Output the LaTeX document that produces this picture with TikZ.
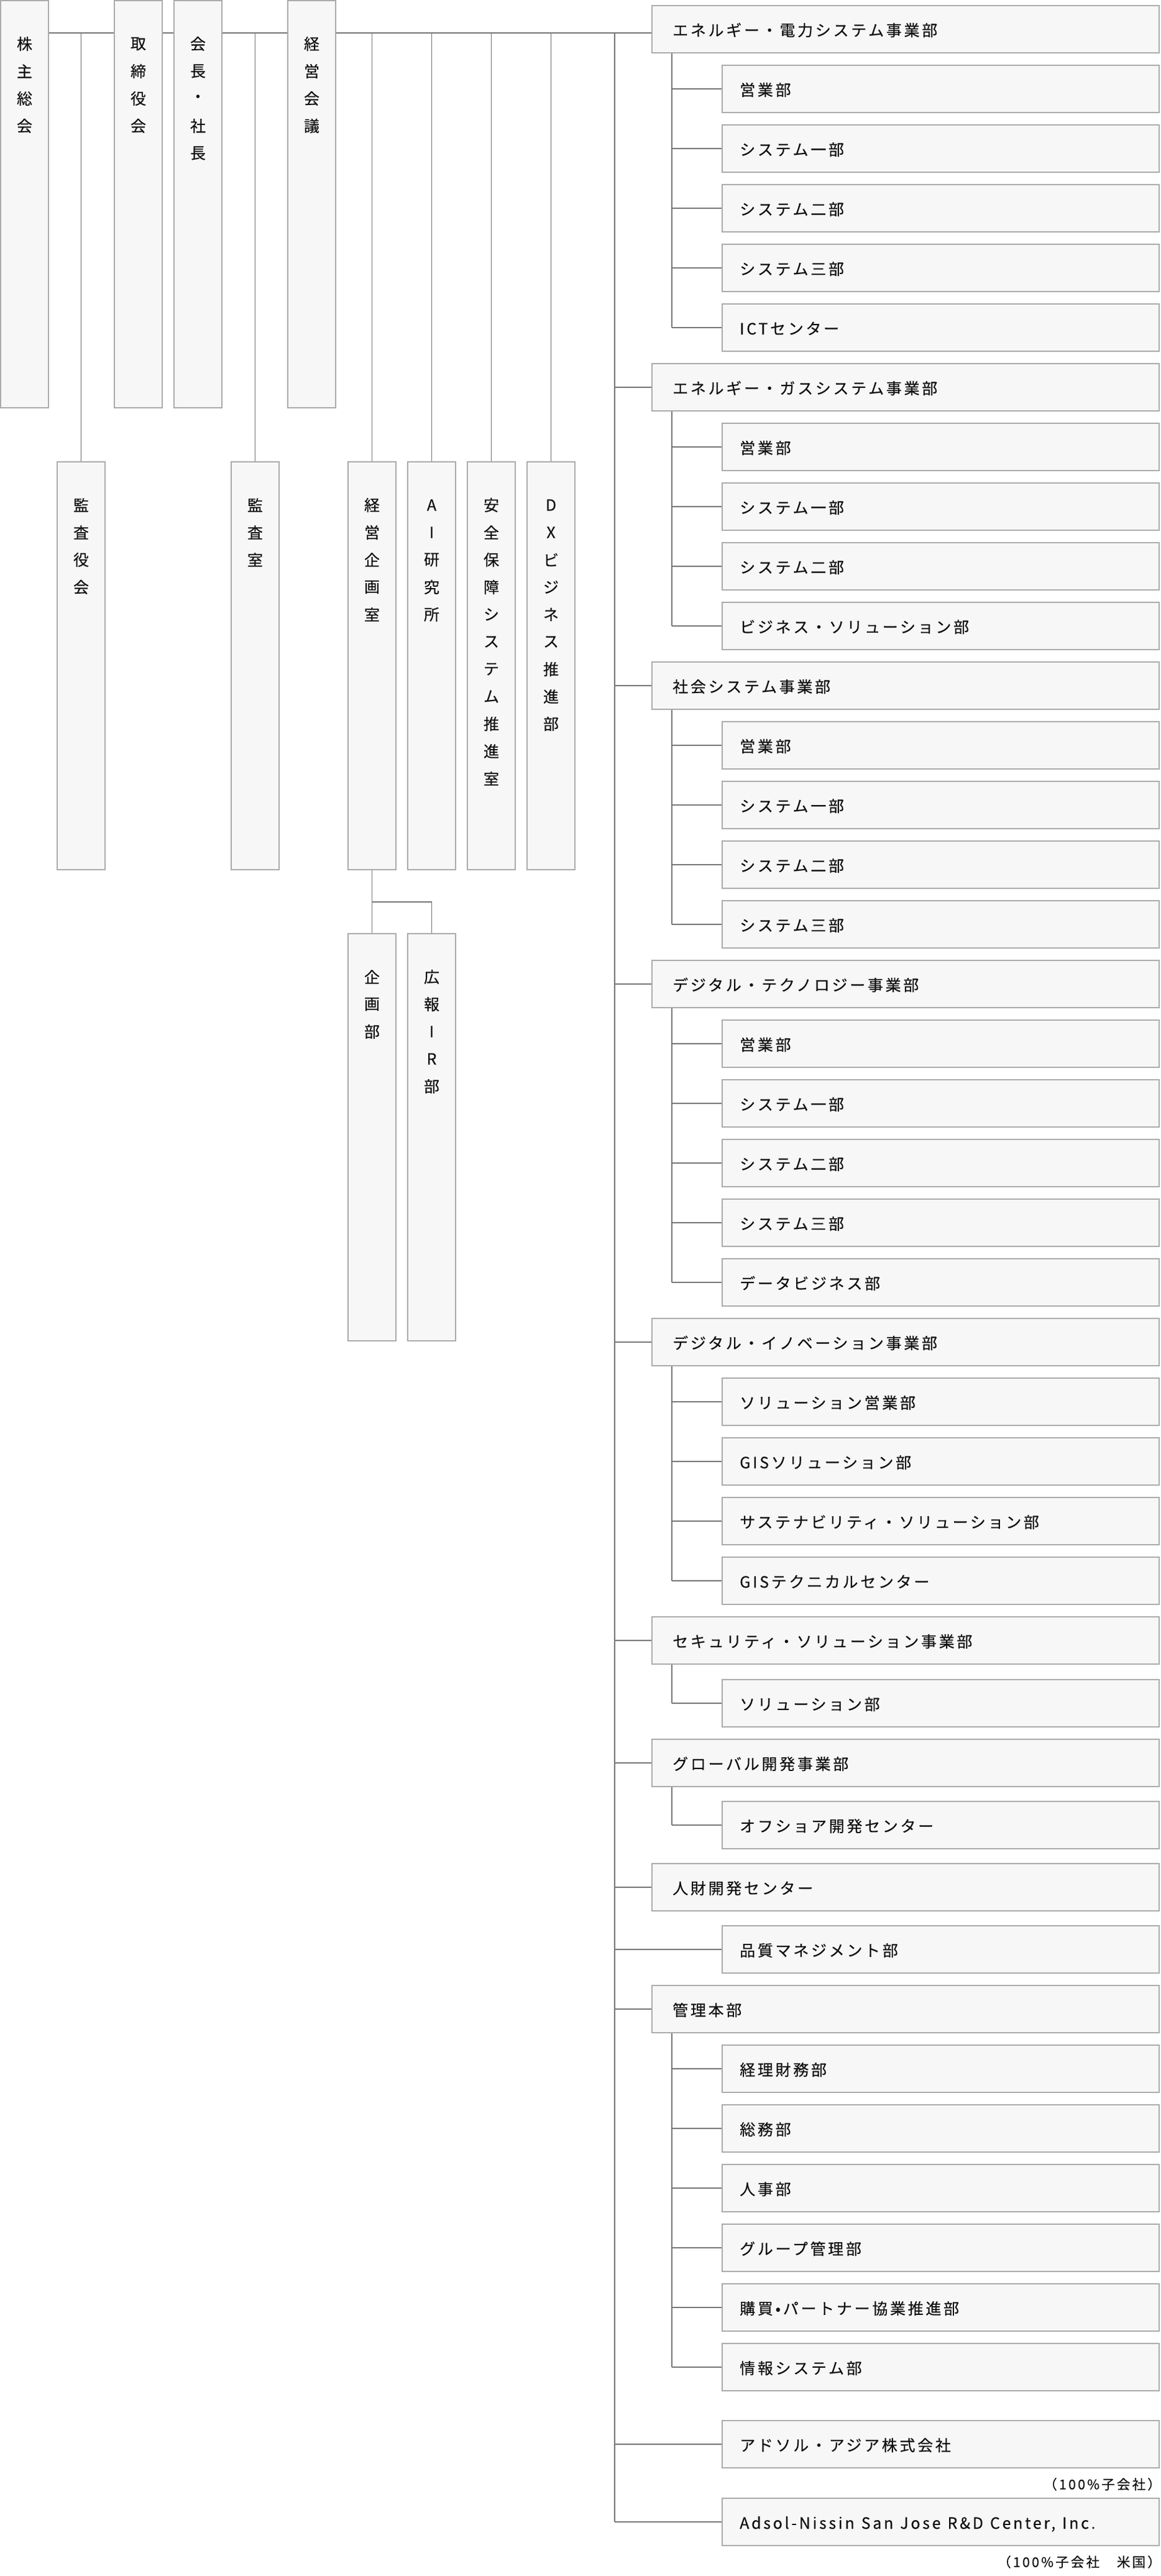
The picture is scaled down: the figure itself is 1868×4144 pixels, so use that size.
\documentclass[tikz,border=0pt]{standalone}
\usepackage{fontspec}
\setmainfont{Noto Sans CJK JP}[FakeBold=0.35]
\newfontfamily\jpls{Noto Sans CJK JP}[LetterSpace=14.8,FakeBold=0.35]
\usetikzlibrary{calc}
\pgfdeclarelayer{bg}
\pgfsetlayers{bg,main}
\definecolor{boxfill}{HTML}{F7F7F7}
\definecolor{boxline}{HTML}{ABABAB}
\definecolor{connc}{HTML}{777777}
\definecolor{txt}{HTML}{111111}
\tikzset{
  box/.style={draw=boxline, fill=boxfill, line width=2, inner sep=0, rectangle},
  vbox/.style={box, minimum width=77},
  divbox/.style={box, minimum width=816, minimum height=76},
  subbox/.style={box, minimum width=703, minimum height=76},
  vchar/.style={inner sep=0, text=txt, font=\fontsize{25}{25}\selectfont},
  htext/.style={inner sep=0, anchor=base west, text=txt, font=\jpls\fontsize{25}{25}\selectfont},
  notetext/.style={inner sep=0, anchor=base east, text=txt, font=\jpls\fontsize{21.5}{21.5}\selectfont},
  conn/.style={draw=connc, line width=1.8},
}
\newcommand\wsp{\hspace{11pt}}
% vertical label: name, x centre, box top, chars
\newcommand\vlabel[4]{\foreach \c [count=\i] in {#4} \node[vchar] (#1-c\i) at ({#2},{#3+70.5+44*(\i-1)}) {\c};}
% division box: name, top, text
\newcommand\hdiv[3]{\node[divbox] (#1) at (1457,#2+39) {}; \node[htext] (#1-t) at (1082,#2+50) {#3};}
% sub box: name, top, text
\newcommand\hsub[3]{\node[subbox] (#1) at (1513.5,#2+39) {}; \node[htext] (#1-t) at (1190,#2+50) {#3};}
% sub group connectors: division, last sub, list of subs
\newcommand\subgroup[3]{\draw[conn] (#1.south -| sx) -- (sx |- #2.west);
  \foreach \s in {#3} \draw[conn] (sx |- \s.west) -- (\s.west);}
\begin{document}
\begin{tikzpicture}[x=1pt,y=-1pt]
\begin{pgfonlayer}{bg}
\fill[white] (0,0) rectangle (1868,4144);
\end{pgfonlayer}
\useasboundingbox (0,0) rectangle (1868,4144);

% ---- top row vertical boxes
\node[vbox, minimum height=655] (kabu) at (39.5,328.5) {};
\vlabel{kabu}{39.5}{0}{株,主,総,会}
\node[vbox, minimum height=655] (tori) at (222.5,328.5) {};
\vlabel{tori}{222.5}{0}{取,締,役,会}
\node[vbox, minimum height=655] (kaicho) at (318.5,328.5) {};
\vlabel{kaicho}{318.5}{0}{会,長,・,社,長}
\node[vbox, minimum height=655] (kaigi) at (501.5,328.5) {};
\vlabel{kaigi}{501.5}{0}{経,営,会,議}

% ---- second row
\node[vbox, minimum height=656] (kansayaku) at (130.5,1071) {};
\vlabel{kansayaku}{130.5}{742}{監,査,役,会}
\node[vbox, minimum height=656] (kansashitsu) at (410.5,1071) {};
\vlabel{kansashitsu}{410.5}{742}{監,査,室}
\node[vbox, minimum height=656] (kikakushitsu) at (598.5,1071) {};
\vlabel{kikakushitsu}{598.5}{742}{経,営,企,画,室}
\node[vbox, minimum height=656] (ai) at (694.5,1071) {};
\vlabel{ai}{694.5}{742}{A,I,研,究,所}
\node[vbox, minimum height=656] (anzen) at (790.5,1071) {};
\vlabel{anzen}{790.5}{742}{安,全,保,障,シ,ス,テ,ム,推,進,室}
\node[vbox, minimum height=656] (dx) at (886.5,1071) {};
\vlabel{dx}{886.5}{742}{D,X,ビ,ジ,ネ,ス,推,進,部}

% ---- third row
\node[vbox, minimum height=655] (kikakubu) at (598.5,1829.5) {};
\vlabel{kikakubu}{598.5}{1501}{企,画,部}
\node[vbox, minimum height=655] (kouhou) at (694.5,1829.5) {};
\vlabel{kouhou}{694.5}{1501}{広,報,I,R,部}

% ---- right column
\hdiv{d1}{8}{エネルギー・電力システム事業部}
\hsub{d1a}{104}{営業部}
\hsub{d1b}{200}{システム一部}
\hsub{d1c}{296}{システム二部}
\hsub{d1d}{392}{システム三部}
\hsub{d1e}{488}{ICTセンター}
\hdiv{d2}{584}{エネルギー・ガスシステム事業部}
\hsub{d2a}{680}{営業部}
\hsub{d2b}{776}{システム一部}
\hsub{d2c}{872}{システム二部}
\hsub{d2d}{968}{ビジネス・ソリューション部}
\hdiv{d3}{1064}{社会システム事業部}
\hsub{d3a}{1160}{営業部}
\hsub{d3b}{1256}{システム一部}
\hsub{d3c}{1352}{システム二部}
\hsub{d3d}{1448}{システム三部}
\hdiv{d4}{1544}{デジタル・テクノロジー事業部}
\hsub{d4a}{1640}{営業部}
\hsub{d4b}{1736}{システム一部}
\hsub{d4c}{1832}{システム二部}
\hsub{d4d}{1928}{システム三部}
\hsub{d4e}{2024}{データビジネス部}
\hdiv{d5}{2120}{デジタル・イノベーション事業部}
\hsub{d5a}{2216}{ソリューション営業部}
\hsub{d5b}{2312}{GISソリューション部}
\hsub{d5c}{2408}{サステナビリティ・ソリューション部}
\hsub{d5d}{2504}{GISテクニカルセンター}
\hdiv{d6}{2600}{セキュリティ・ソリューション事業部}
\hsub{d6a}{2701}{ソリューション部}
\hdiv{d7}{2797}{グローバル開発事業部}
\hsub{d7a}{2897}{オフショア開発センター}
\hdiv{d8}{2997}{人財開発センター}
\hsub{qm}{3097}{品質マネジメント部}
\hdiv{d9}{3193}{管理本部}
\hsub{d9a}{3289}{経理財務部}
\hsub{d9b}{3385}{総務部}
\hsub{d9c}{3481}{人事部}
\hsub{d9d}{3577}{グループ管理部}
\hsub{d9e}{3673}{購買•パートナー協業推進部}
\hsub{d9f}{3769}{情報システム部}
\hsub{asia}{3893}{アドソル・アジア株式会社}
\hsub{adn}{4018}{Adsol-Nissin\wsp San\wsp Jose\wsp R\&D\wsp Center,\wsp Inc.}
\node[notetext] (n1) at (1868,4004.5) {（100\%子会社）};
\node[notetext] (n2) at (1868,4129.5) {（100\%子会社　米国）};

% ---- connectors
\begin{pgfonlayer}{bg}
\coordinate (bus) at (0,53);
\coordinate (trunk) at (989,53);
\coordinate (sx) at (1081,0);
\coordinate (kbus) at (0,1451);
\draw[conn] (kabu.east |- bus) -- (d1.west |- bus);
\foreach \b in {kansayaku,kansashitsu,kikakushitsu,ai,anzen,dx}
  \draw[conn] (\b.north |- bus) -- (\b.north);
\draw[conn] (kikakushitsu.south) -- (kikakubu.north);
\draw[conn] (kikakubu.north |- kbus) -- (kouhou.north |- kbus) -- (kouhou.north);
\draw[conn] (trunk) -- (trunk |- adn.west);
\foreach \d in {d2,d3,d4,d5,d6,d7,d8,d9,qm,asia,adn}
  \draw[conn] (trunk |- \d.west) -- (\d.west);
\subgroup{d1}{d1e}{d1a,d1b,d1c,d1d,d1e}
\subgroup{d2}{d2d}{d2a,d2b,d2c,d2d}
\subgroup{d3}{d3d}{d3a,d3b,d3c,d3d}
\subgroup{d4}{d4e}{d4a,d4b,d4c,d4d,d4e}
\subgroup{d5}{d5d}{d5a,d5b,d5c,d5d}
\subgroup{d6}{d6a}{d6a}
\subgroup{d7}{d7a}{d7a}
\subgroup{d9}{d9f}{d9a,d9b,d9c,d9d,d9e,d9f}
\end{pgfonlayer}
\end{tikzpicture}
\end{document}
